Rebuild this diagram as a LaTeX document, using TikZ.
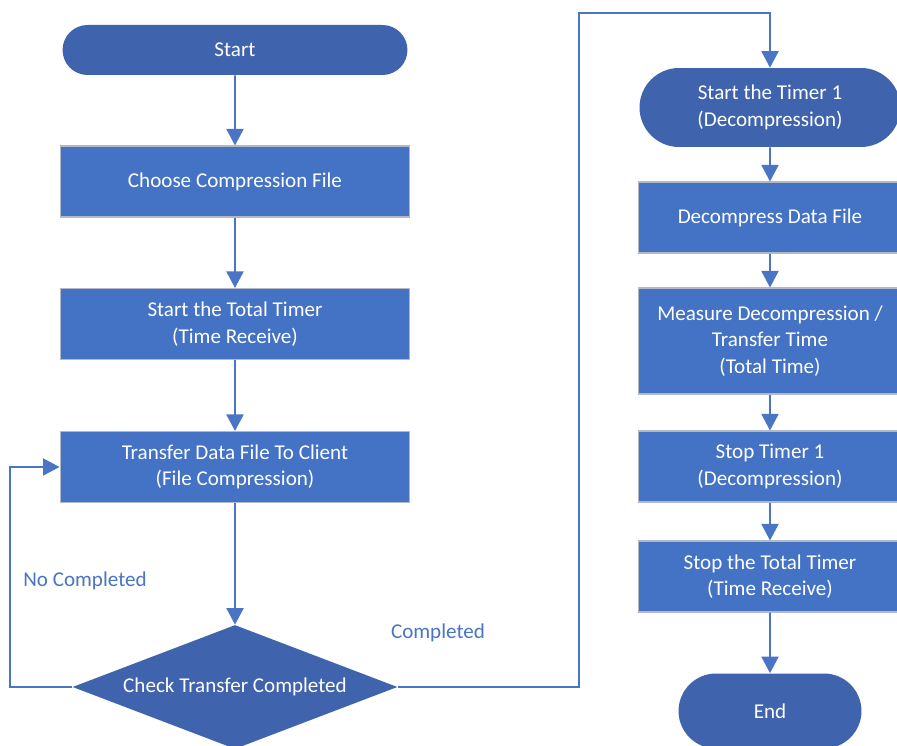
\documentclass[tikz,border=0pt]{standalone}
\usepackage{fontspec}
\setmainfont{Carlito}
\usetikzlibrary{positioning, arrows.meta, shapes.geometric, shapes.misc}
\definecolor{BlueA}{HTML}{3F63AC}
\definecolor{BlueB}{HTML}{4472C4}
\definecolor{EdgeA}{HTML}{B2B8C6}
\definecolor{LineA}{HTML}{4A74C4}
\tikzset{
  stepbox/.style={rectangle, draw=EdgeA, line width=0.6pt, fill=BlueB,
                  text=white, align=center, font=\fontsize{12}{15}\selectfont,
                  minimum width=7cm, minimum height=1.42cm, inner sep=2pt},
  rbox/.style={stepbox, minimum width=5.28cm},
  term/.style={rounded rectangle, fill=BlueA, text=white, align=center,
               font=\fontsize{12}{15}\selectfont, inner sep=2pt},
  check/.style={diamond, fill=BlueA, text=white, aspect=2.6, inner sep=0pt,
                font=\fontsize{12}{15}\selectfont,
                minimum width=6.5cm, minimum height=2.48cm},
  arr/.style={-{Triangle[length=3.3mm,width=3.4mm]}, draw=LineA, line width=1.1pt},
  lbl/.style={font=\fontsize{12}{15}\selectfont, text=LineA, inner sep=0pt},
}

\begin{document}
\begin{tikzpicture}[x=0.02cm, y=-0.02cm]
  \useasboundingbox (0,0) rectangle (897,746);
  \fill[white] (0,0) rectangle (897,746);
  \clip (0,0) rectangle (897,746);

  % ---- left column: compression side ----
  \node[term, minimum width=7.04cm, minimum height=1cm] (start) at (235,50) {Start};
  \node[stepbox] (choose)   at (235,181.5) {Choose Compression File};
  \node[stepbox] (total)    at (235,324)   {Start the Total Timer\\(Time Receive)};
  \node[stepbox] (transfer) at (235,467)   {Transfer Data File To Client\\(File Compression)};
  \node[check]   (done)     at (235,687)   {Check Transfer Completed};

  \draw[arr] (start)    -- (choose);
  \draw[arr] (choose)   -- (total);
  \draw[arr] (total)    -- (transfer);
  \draw[arr] (transfer) -- (done);

  % ---- right column: decompression side ----
  \node[term, minimum width=5.36cm, minimum height=1.58cm] (timer1) at (770,107.5)
       {Start the Timer 1\\(Decompression)};
  \node[rbox] (decomp)  at (770,217.5) {Decompress Data File};
  \node[rbox, minimum height=2.12cm] (measure) at (770,341)
       {Measure Decompression /\\Transfer Time\\(Total Time)};
  \node[rbox] (stop1)   at (770,466.5) {Stop Timer 1\\(Decompression)};
  \node[rbox] (stopall) at (770,576.5) {Stop the Total Timer\\(Time Receive)};
  \node[term, minimum width=3.8cm, minimum height=1.5cm] (end) at (770,711) {End};

  \draw[arr] (timer1)  -- (decomp);
  \draw[arr] (decomp)  -- (measure);
  \draw[arr] (measure) -- (stop1);
  \draw[arr] (stop1)   -- (stopall);
  \draw[arr] (stopall) -- (end);

  % ---- decision branches ----
  \coordinate (noway)  at (10,0);
  \coordinate (yesway) at (579,13);
  \draw[arr] (done.west) -- (done.west -| noway) |- (transfer.west);
  \draw[arr] (done.east) -| (yesway) -| (timer1.north);
  \node[lbl] (nolbl)  at (85,581)  {No Completed};
  \node[lbl] (yeslbl) at (438,633) {Completed};
\end{tikzpicture}
\end{document}
